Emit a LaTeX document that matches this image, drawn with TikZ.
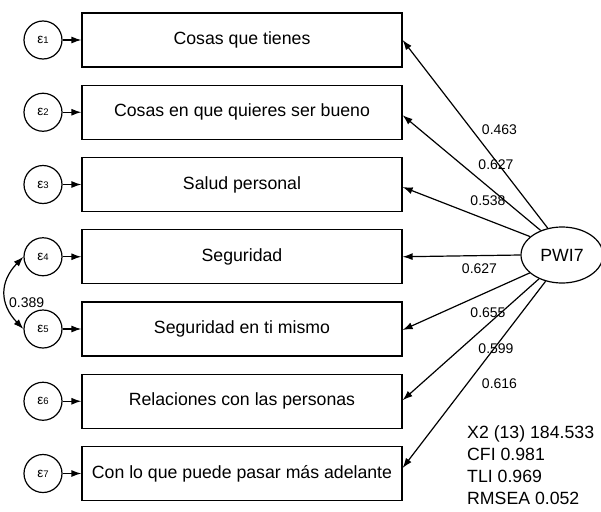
\documentclass[tikz,border=0pt]{standalone}
\usepackage{fontspec}
\setmainfont{Liberation Sans}
\usetikzlibrary{arrows.meta,calc,shapes.geometric}
\begin{document}
\begin{tikzpicture}[x=1pt,y=-1pt,
  obs/.style={draw,line width=1.2pt,rectangle,minimum width=320pt,minimum height=54pt,inner sep=0pt,font=\fontsize{17.7}{20}\selectfont},
  err/.style={draw,line width=1.2pt,circle,minimum size=38pt,inner sep=0pt},
  lat/.style={draw,line width=1.2pt,ellipse,minimum width=82pt,minimum height=56pt,inner sep=0pt,font=\fontsize{17.7}{20}\selectfont},
  arr/.style={line width=1.2pt,-{Latex[length=10pt,width=7pt]}},
  lab/.style={inner sep=0pt,font=\fontsize{14}{16}\selectfont}]
\useasboundingbox (0,0) rectangle (601,511);
\newcommand{\epslab}[1]{{\fontsize{13.5}{14}\selectfont ε}{\fontsize{9.5}{10}\selectfont #1}}
% observed boxes
\node[obs] (b1) at (242,40) {Cosas que tienes};
\node[obs] (b2) at (242,112.25) {Cosas en que quieres ser bueno};
\node[obs] (b3) at (242,184.5) {Salud personal};
\node[obs] (b4) at (242,256.75) {Seguridad};
\node[obs] (b5) at (242,329) {Seguridad en ti mismo};
\node[obs] (b6) at (242,401.25) {Relaciones con las personas};
\node[obs] (b7) at (242,473.5) {Con lo que puede pasar más adelante};
% error circles
\node[err] (e1) at (43,40) {\epslab{1}};
\node[err] (e2) at (43,112.25) {\epslab{2}};
\node[err] (e3) at (43,184.5) {\epslab{3}};
\node[err] (e4) at (43,256.75) {\epslab{4}};
\node[err] (e5) at (43,329) {\epslab{5}};
\node[err] (e6) at (43,401.25) {\epslab{6}};
\node[err] (e7) at (43,473.5) {\epslab{7}};
\foreach \i in {1,...,7} {\draw[arr] (e\i) -- (b\i);}
% covariance
\draw[line width=1.2pt,{Latex[length=10pt,width=7pt]}-{Latex[length=10pt,width=7pt]}] (e4.west) .. controls +(-24,25) and +(-24,-25) .. (e5.west);
\node[lab,anchor=west] (c45) at (9,303) {0.389};
% latent
\node[lat] (pwi) at (562,255) {PWI7};
\draw[arr] (pwi.118) -- (b1.east);
\draw[arr] (pwi.131) -- ($(b2.east)+(0,3)$);
\draw[arr] (pwi.150) -- ($(b3.east)+(0,2.5)$);
\draw[arr] (pwi.180) -- (b4.east);
\draw[arr] (pwi.209) -- ($(b5.east)+(0,1)$);
\draw[arr] (pwi.226) -- ($(b6.east)+(0,-1)$);
\draw[arr] (pwi.238) -- ($(b7.east)+(0,-5.5)$);
% loadings
\node[lab] (l1) at (499.5,130) {0.463};
\node[lab] (l2) at (496,165) {0.627};
\node[lab] (l3) at (488,201) {0.538};
\node[lab] (l4) at (479.5,268.5) {0.627};
\node[lab] (l5) at (488,313) {0.655};
\node[lab] (l6) at (496,349) {0.599};
\node[lab] (l7) at (499.5,384) {0.616};
% fit
\node[anchor=north west,align=left,inner sep=0pt,font=\fontsize{17.7}{22}\selectfont] (fit) at (467,425.5) {X2 (13) 184.533\\CFI 0.981\\TLI 0.969\\RMSEA 0.052};
\end{tikzpicture}
\end{document}
